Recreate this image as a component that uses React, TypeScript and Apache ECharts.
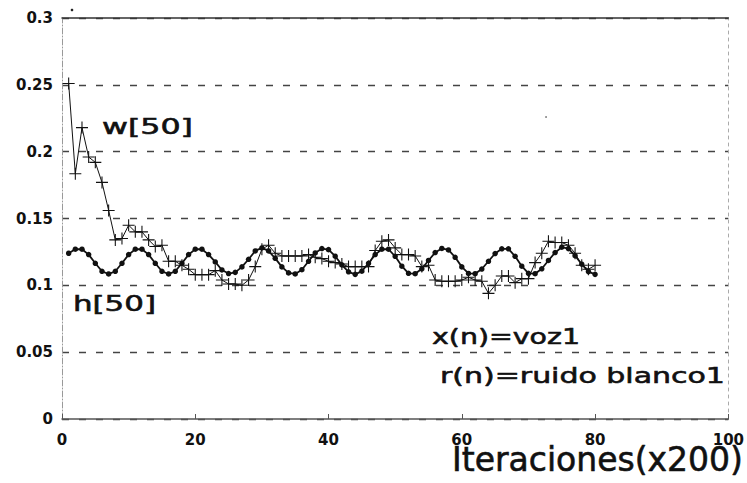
import React, { useEffect, useRef } from "react";
import * as echarts from "echarts";

// h[50] coefficient (dotted markers), iterations 1..80
const hValues = [
  0.124, 0.127, 0.127, 0.123, 0.1165, 0.1105, 0.1085, 0.1105, 0.1165, 0.123,
  0.127, 0.127, 0.123, 0.1165, 0.1105, 0.1085, 0.1105, 0.1165, 0.123, 0.127,
  0.127, 0.123, 0.1175, 0.1115, 0.1088, 0.1097, 0.1138, 0.1195, 0.1257, 0.128,
  0.1257, 0.1202, 0.1138, 0.1093, 0.1085, 0.1117, 0.118, 0.1242, 0.1275, 0.1267,
  0.1218, 0.1153, 0.1101, 0.1082, 0.1106, 0.1165, 0.123, 0.127, 0.127, 0.1217,
  0.1143, 0.109, 0.1087, 0.1124, 0.1186, 0.1245, 0.1276, 0.1265, 0.121, 0.1138,
  0.1089, 0.1087, 0.1122, 0.118, 0.1238, 0.1273, 0.1273, 0.1217, 0.1143, 0.109,
  0.1087, 0.1124, 0.1186, 0.1245, 0.1285, 0.1275, 0.1222, 0.1158, 0.1103, 0.1082,
];

// w[50] coefficient (plus markers), iterations 1..80
const wValues = [
  0.251, 0.1835, 0.218, 0.196, 0.192, 0.177, 0.156, 0.134, 0.135, 0.145,
  0.14, 0.14, 0.134, 0.129, 0.13, 0.118, 0.118, 0.115, 0.112, 0.108,
  0.108, 0.108, 0.111, 0.104, 0.101, 0.101, 0.1, 0.104, 0.114, 0.127,
  0.13, 0.124, 0.122, 0.122, 0.122, 0.122, 0.123, 0.121, 0.12, 0.118,
  0.117, 0.116, 0.114, 0.114, 0.114, 0.114, 0.126, 0.133, 0.134, 0.128,
  0.123, 0.123, 0.122, 0.114, 0.115, 0.104, 0.103, 0.103, 0.103, 0.104,
  0.106, 0.104, 0.103, 0.094, 0.1, 0.107, 0.107, 0.102, 0.105, 0.105,
  0.117, 0.124, 0.133, 0.132, 0.132, 0.13, 0.124, 0.115, 0.112, 0.115,
];

const xRange = [0, 100];
const xStep = 20;
const yRange = [0, 0.3];
const yStep = 0.05;

const seriesLabels = ["w[50]", "h[50]"];
const noteLabels = ["x(n)=voz1", "r(n)=ruido blanco1"];
const xAxisTitle = "Iteraciones(x200)";

const FONT = "DejaVu Sans";

function measure(text: string, font: string): number {
  const ctx = document.createElement("canvas").getContext("2d");
  if (!ctx) return text.length * 10;
  ctx.font = font;
  return ctx.measureText(text).width;
}

function stretchedText(text: string, left: number, cy: number, size: number, width: number) {
  const font = `${size}px "${FONT}"`;
  const w = measure(text, font);
  return {
    type: "text",
    x: left,
    y: cy,
    scaleX: width / w,
    silent: true,
    style: {
      text,
      font,
      fill: "#111",
      stroke: "#111",
      lineWidth: 0.6,
      textAlign: "left",
      textVerticalAlign: "middle",
    },
  };
}

const plusPath = "path://M0,4.55H10V5.45H0Z M4.55,0H5.45V10H4.55Z";

export default function App() {
  const ref = useRef<HTMLDivElement>(null);

  useEffect(() => {
    if (!ref.current) return;
    const chart = echarts.init(ref.current, undefined, { renderer: "svg" });

    const wData = wValues.map((v, i) => [i + 1, v]);
    const hData = hValues.map((v, i) => [i + 1, v]);

    const tickLabel = {
      fontFamily: FONT,
      fontWeight: "bold" as const,
      fontSize: 15,
      color: "#111",
    };

    chart.setOption({
      animation: false,
      backgroundColor: "#fff",
      grid: { left: 62, top: 18, right: 15, bottom: 64, containLabel: false },
      xAxis: [
        {
          type: "value",
          min: xRange[0],
          max: xRange[1],
          interval: xStep,
          axisLine: { show: true, lineStyle: { color: "#555", width: 1.5 } },
          axisTick: { show: true, inside: true, length: 5, lineStyle: { color: "#555", width: 1 } },
          axisLabel: { ...tickLabel, margin: 13 },
          splitLine: { show: false },
        },
        {
          type: "value",
          position: "top",
          min: xRange[0],
          max: xRange[1],
          interval: xStep,
          axisLine: { show: true, onZero: false, lineStyle: { color: "#333", width: 1.5 } },
          axisTick: { show: false },
          axisLabel: { show: false },
          splitLine: { show: false },
        },
      ],
      yAxis: [
        {
          type: "value",
          min: yRange[0],
          max: yRange[1],
          interval: yStep,
          axisLine: { show: true, lineStyle: { color: "#999", width: 1, type: [6, 2, 1, 2] } },
          axisTick: { show: false },
          axisLabel: { ...tickLabel, margin: 9 },
          splitLine: { show: true, lineStyle: { color: "#444", width: 1.3, type: [7, 10] } },
        },
        {
          type: "value",
          position: "right",
          min: yRange[0],
          max: yRange[1],
          interval: yStep,
          axisLine: { show: true, onZero: false, lineStyle: { color: "#aaa", width: 1, type: [3, 4] } },
          axisTick: { show: false },
          axisLabel: { show: false },
          splitLine: { show: false },
        },
      ],
      series: [
        {
          name: seriesLabels[1],
          type: "line",
          xAxisIndex: 0,
          yAxisIndex: 0,
          data: hData,
          symbol: "circle",
          symbolSize: 5.5,
          showAllSymbol: true,
          lineStyle: { color: "#111", width: 1.8 },
          itemStyle: { color: "#111" },
          z: 3,
        },
        {
          name: seriesLabels[0],
          type: "line",
          xAxisIndex: 0,
          yAxisIndex: 0,
          data: wData,
          symbol: plusPath,
          symbolSize: 12,
          showAllSymbol: true,
          lineStyle: { color: "#111", width: 1 },
          itemStyle: { color: "#111" },
          z: 4,
        },
      ],
      graphic: [
        stretchedText(seriesLabels[0], 102, 126, 22, 91),
        stretchedText(seriesLabels[1], 73, 303, 22, 83),
        stretchedText(noteLabels[0], 432, 336, 22, 148),
        stretchedText(noteLabels[1], 440, 375, 22, 285),
        stretchedText(xAxisTitle, 452, 459, 34, 291),
        { type: "circle", shape: { cx: 72, cy: 10, r: 1.3 }, style: { fill: "#222" }, silent: true },
        { type: "circle", shape: { cx: 546, cy: 117, r: 0.9 }, style: { fill: "#777" }, silent: true },
      ],
    });

    return () => chart.dispose();
  }, []);

  return (
    <div
      ref={ref}
      style={{ position: "fixed", left: 0, top: 0, width: 747, height: 483, background: "#fff" }}
    />
  );
}
